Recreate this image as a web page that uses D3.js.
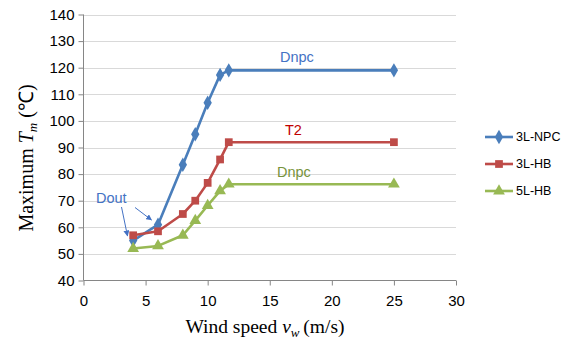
<!DOCTYPE html>
<html>
<head>
<meta charset="utf-8">
<script src="https://cdn.jsdelivr.net/npm/d3@7"></script>
<style>
  body { margin: 0; background: #fff; }
  svg { display: block; }
</style>
</head>
<body>
<svg id="chart" width="569" height="340"></svg>
<script>
const wind_speed = [4, 6, 8, 9, 10, 11, 11.7, 25];
const npc3 = [55, 61, 83.5, 95, 106.8, 117.3, 119, 119];
const hb3 = [57, 58.5, 65, 70, 76.7, 85.5, 92, 92];
const hb5 = [52, 53, 57, 62.5, 68.2, 73.7, 76.2, 76.2];
const series_names = ['3L-NPC', '3L-HB', '5L-HB'];
const series_colors = ['#4A7EBB', '#BE4B48', '#98B954'];
const y_ticks = [40, 50, 60, 70, 80, 90, 100, 110, 120, 130, 140];
const x_ticks = [0, 5, 10, 15, 20, 25, 30];

const series = [npc3, hb3, hb5].map((vals, i) => ({
  name: series_names[i],
  color: series_colors[i],
  points: wind_speed.map((w, j) => ({ x: w, y: vals[j] }))
}));

const svg = d3.select('#chart');
const x = d3.scaleLinear().domain([0, 30]).range([83.5, 456]);
const y = d3.scaleLinear().domain([40, 140]).range([280.5, 14.5]);

// grid
svg.append('g')
  .selectAll('line')
  .data(y_ticks.slice(1))
  .enter()
  .append('line')
  .attr('x1', x(0)).attr('x2', x(30))
  .attr('y1', d => Math.round(y(d)) + 0.5).attr('y2', d => Math.round(y(d)) + 0.5)
  .attr('stroke', '#D9D9D9').attr('stroke-width', 1);

// axes
const yAxis = svg.append('g')
  .attr('transform', `translate(${x(0)},0)`)
  .call(d3.axisLeft(y).tickValues(y_ticks).tickSize(5).tickPadding(4));
const xAxis = svg.append('g')
  .attr('transform', `translate(0,${y(40)})`)
  .call(d3.axisBottom(x).tickValues(x_ticks).tickSize(5).tickPadding(10));
[yAxis, xAxis].forEach(a => {
  a.selectAll('path, line').attr('stroke', '#868686');
  a.selectAll('text')
    .attr('fill', '#000')
    .style('font-family', 'Liberation Sans, Arial, sans-serif')
    .style('font-size', '15px');
});
yAxis.select('.domain').attr('d', `M0,${y(40)}V${y(140)}`);
xAxis.select('.domain').attr('d', `M${x(0)},0H${x(30)}`);

// lines
const line = d3.line().x(d => x(d.x)).y(d => y(d.y));
const shapes = [d3.symbolDiamond, d3.symbolSquare, d3.symbolTriangle];
const sizes = [60, 60, 60];
series.forEach((s, i) => {
  svg.append('path')
    .datum(s.points)
    .attr('d', line)
    .attr('fill', 'none')
    .attr('stroke', s.color)
    .attr('stroke-width', 2.6)
    .attr('stroke-linejoin', 'round');
  svg.append('g')
    .selectAll('path')
    .data(s.points)
    .enter()
    .append('path')
    .attr('transform', d => `translate(${x(d.x)},${y(d.y)})`)
    .attr('d', d3.symbol().type(shapes[i]).size(sizes[i]))
    .attr('fill', s.color);
});

// annotations
const notes = [
  { text: 'Dnpc', x: 280, y: 62, color: '#4472C4' },
  { text: 'T2', x: 285, y: 135, color: '#C00000' },
  { text: 'Dnpc', x: 277, y: 177, color: '#77933C' },
  { text: 'Dout', x: 96, y: 203, color: '#4472C4' }
];
svg.append('g')
  .selectAll('text')
  .data(notes)
  .enter()
  .append('text')
  .attr('x', d => d.x).attr('y', d => d.y)
  .attr('fill', d => d.color)
  .style('font-family', 'Liberation Sans, Arial, sans-serif')
  .style('font-size', '14.5px')
  .text(d => d.text);

svg.append('defs').append('marker')
  .attr('id', 'arr').attr('viewBox', '0 0 10 10')
  .attr('refX', 9).attr('refY', 5)
  .attr('markerWidth', 6).attr('markerHeight', 6)
  .attr('orient', 'auto')
  .append('path').attr('d', 'M0,0L10,5L0,10z').attr('fill', '#4472C4');
const arrows = [
  [121.5, 207, 127.5, 236],
  [135, 207.5, 151.5, 220]
];
svg.append('g')
  .selectAll('line')
  .data(arrows)
  .enter()
  .append('line')
  .attr('x1', d => d[0]).attr('y1', d => d[1])
  .attr('x2', d => d[2]).attr('y2', d => d[3])
  .attr('stroke', '#4472C4').attr('stroke-width', 1)
  .attr('marker-end', 'url(#arr)');

// axis titles
const yt = svg.append('text')
  .attr('transform', 'translate(33,158) rotate(-90)')
  .attr('text-anchor', 'middle')
  .style('font-family', 'Liberation Serif, Times New Roman, serif')
  .style('font-size', '20px');
yt.append('tspan').text('Maximum ');
yt.append('tspan').style('font-style', 'italic').text('T');
yt.append('tspan').style('font-style', 'italic').style('font-size', '13px').attr('dy', 4).text('m');
yt.append('tspan').attr('dy', -4).text(' (℃)');

const xt = svg.append('text')
  .attr('x', 265).attr('y', 333)
  .attr('text-anchor', 'middle')
  .style('font-family', 'Liberation Serif, Times New Roman, serif')
  .style('font-size', '19.5px');
xt.append('tspan').text('Wind speed ');
xt.append('tspan').style('font-style', 'italic').text('v');
xt.append('tspan').style('font-style', 'italic').style('font-size', '13px').attr('dy', 4).text('w');
xt.append('tspan').attr('dy', -4).text('\u2009(m/s)');

// Legend
const legend = svg.append('g').attr('transform', 'translate(485,0)');
const legend_rows = legend.selectAll('g')
  .data(series)
  .enter()
  .append('g')
  .attr('transform', (d, i) => `translate(0,${137 + i * 27})`);
legend_rows.append('line')
  .attr('x1', 0).attr('x2', 28)
  .attr('stroke', d => d.color).attr('stroke-width', 2.6);
legend_rows.append('path')
  .attr('transform', 'translate(14,0)')
  .attr('d', (d, i) => d3.symbol().type(shapes[i]).size(sizes[i])())
  .attr('fill', d => d.color);
legend_rows.append('text')
  .attr('x', 31).attr('dy', '0.35em')
  .style('font-family', 'Liberation Sans, Arial, sans-serif')
  .style('font-size', '12.5px')
  .text(d => d.name);
</script>
</body>
</html>
